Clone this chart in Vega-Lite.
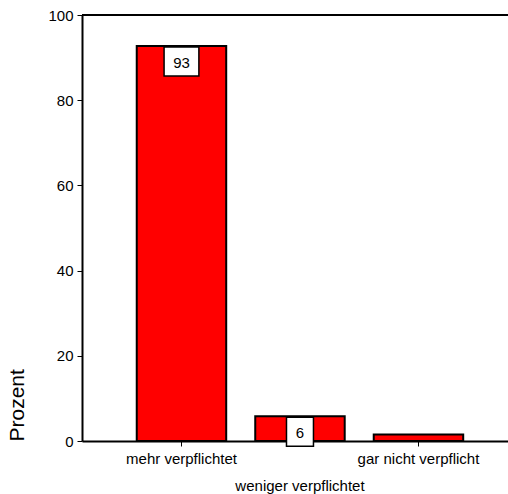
{
  "$schema": "https://vega.github.io/schema/vega-lite/v6.json",
  "width": 426,
  "height": 426,
  "autosize": {"type": "none"},
  "padding": {"left": 82, "top": 15, "right": 0, "bottom": 53},
  "background": "white",
  "config": {
    "view": {"stroke": null},
    "font": "Liberation Sans",
    "axis": {"labelFont": "Liberation Sans", "titleFont": "Liberation Sans", "labelColor": "black", "titleColor": "black", "domainColor": "black", "tickColor": "black", "grid": false}
  },
  "data": {
    "values": [
      {"kategorie": "mehr verpflichtet", "prozent": 92.7, "label": "93"},
      {"kategorie": "weniger verpflichtet", "prozent": 5.8, "label": "6"},
      {"kategorie": "gar nicht verpflicht", "prozent": 1.5, "label": null}
    ]
  },
  "layer": [
    {
      "mark": {"type": "bar", "fill": "#ff0000", "stroke": "black", "strokeWidth": 2},
      "encoding": {
        "x": {
          "field": "kategorie",
          "type": "nominal",
          "sort": null,
          "scale": {"paddingInner": 0.245, "paddingOuter": 0.42, "align": 0.55},
          "axis": {
            "title": null,
            "labelAngle": 0,
            "labelFontSize": 15,
            "labelPadding": 5,
            "labelOverlap": false,
            "labelBound": false,
            "labelBaseline": "top",
            "labelLineHeight": 27,
            "labelExpr": "datum.value === 'weniger verpflichtet' ? ['', datum.label] : datum.label",
            "domainWidth": 2,
            "tickSize": 5,
            "tickWidth": 1
          }
        },
        "y": {
          "field": "prozent",
          "type": "quantitative",
          "scale": {"domain": [0, 100], "nice": false},
          "axis": {
            "values": [0, 20, 40, 60, 80, 100],
            "title": "Prozent",
            "titleFontSize": 21,
            "titleFontWeight": "normal",
            "titleAnchor": "start",
            "titlePadding": 20,
            "labelFontSize": 15,
            "labelPadding": 4,
            "domainWidth": 2,
            "tickSize": 5,
            "tickWidth": 1
          }
        }
      }
    },
    {
      "mark": {"type": "rule", "color": "black", "strokeWidth": 2},
      "encoding": {"y": {"datum": 100}}
    },
    {
      "transform": [{"filter": "datum.label != null"}],
      "mark": {"type": "point", "filled": true, "fill": "white", "stroke": "black", "strokeWidth": 1.5, "opacity": 1, "size": 841, "yOffset": 15.5},
      "encoding": {
        "x": {"field": "kategorie", "type": "nominal", "sort": null},
        "y": {"field": "prozent", "type": "quantitative"},
        "shape": {
          "field": "label",
          "type": "nominal",
          "scale": {"domain": ["93", "6"], "range": ["M-1.2,-1H1.2V1H-1.2Z", "M-0.93,-1H0.93V1H-0.93Z"]},
          "legend": null
        }
      }
    },
    {
      "transform": [{"filter": "datum.label != null"}],
      "mark": {"type": "text", "font": "Liberation Sans", "fontSize": 15, "color": "black", "baseline": "middle", "align": "center", "yOffset": 16.5},
      "encoding": {
        "x": {"field": "kategorie", "type": "nominal", "sort": null},
        "y": {"field": "prozent", "type": "quantitative"},
        "text": {"field": "label"}
      }
    }
  ]
}
